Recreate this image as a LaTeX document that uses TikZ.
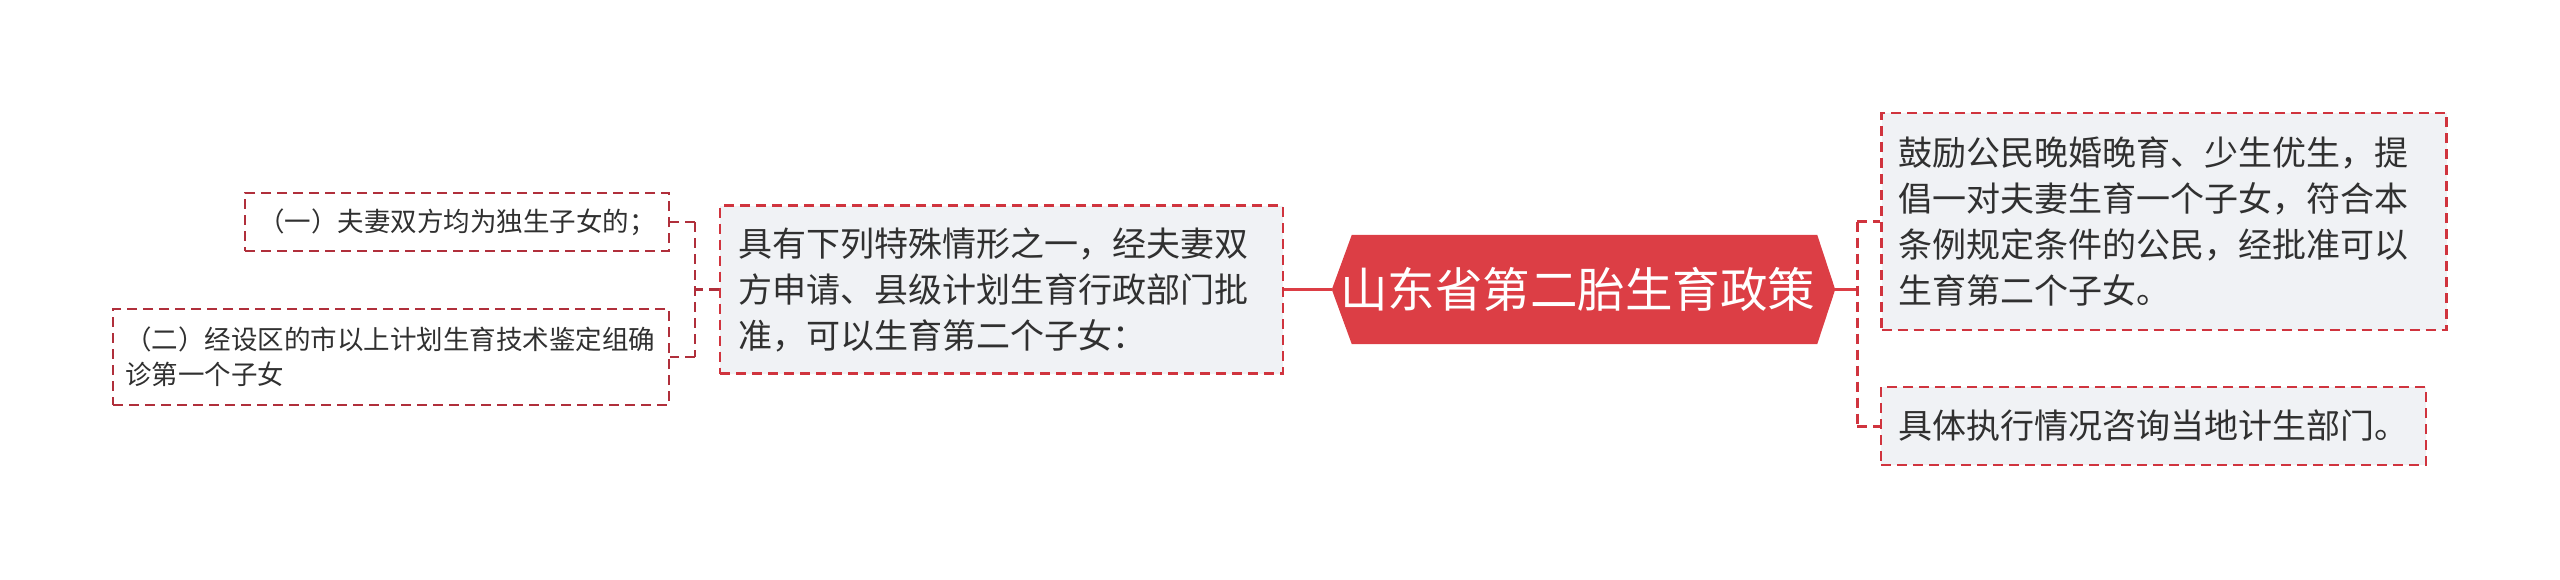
\documentclass[tikz,border=0pt]{standalone}
\usepackage{fontspec}
\newfontfamily\cjk{Noto Sans CJK SC}
\usetikzlibrary{calc,backgrounds}
\definecolor{rootred}{HTML}{DC3E45}
\definecolor{dashred}{HTML}{D0343E}
\definecolor{darkdash}{HTML}{B02F3B}
\definecolor{boxgray}{HTML}{F0F2F5}
\definecolor{txt}{HTML}{303030}
\begin{document}
\begin{tikzpicture}[x=1pt,y=-1pt,
  rootnode/.style={minimum width=503pt,minimum height=109pt,inner sep=0pt,text=white,font=\cjk\fontsize{47.5}{58}\selectfont},
  bigleaf/.style={draw=dashred,fill=boxgray,line width=2.2pt,dash pattern=on 10pt off 6pt,text=txt,align=left,inner ysep=0pt,font=\cjk\fontsize{34}{46}\selectfont},
  smallleaf/.style={draw=darkdash,fill=white,line width=2.2pt,dash pattern=on 10pt off 6pt,text=txt,align=left,inner ysep=0pt,font=\cjk\fontsize{26.5}{35}\selectfont},
  solidlink/.style={draw=rootred,line width=3pt},
  dashlink/.style={draw=dashred,line width=3pt,dash pattern=on 10pt off 6pt},
  darklink/.style={draw=darkdash,line width=2.5pt,dash pattern=on 10pt off 6pt}]
\useasboundingbox (0,0) rectangle (2560,579);

\node[rootnode] (root) at (1583.5,289.5) {\kern-12pt 山东省第二胎生育政策};
\begin{scope}[on background layer]
\fill[rootred] (root.west) -- ($(root.north west)+(20,0)$) -- ($(root.north east)+(-18,0)$) -- (root.east) -- ($(root.south east)+(-18,0)$) -- ($(root.south west)+(20,0)$) -- cycle;
\end{scope}

\node[bigleaf,minimum width=563pt,minimum height=168pt,inner xsep=18pt,text width=527pt] (mid) at (1001.5,289.5)
  {具有下列特殊情形之一，经夫妻双\\方申请、县级计划生育行政部门批\\准，可以生育第二个子女：};

\node[smallleaf,minimum width=424pt,minimum height=58pt,inner xsep=13pt,text width=398pt] (box1) at (457,222)
  {（一）夫妻双方均为独生子女的；};
\node[smallleaf,minimum width=556pt,minimum height=96pt,inner xsep=12pt,text width=532pt] (box2) at (391,357)
  {（二）经设区的市以上计划生育技术鉴定组确\\诊第一个子女};

\node[bigleaf,minimum width=565pt,minimum height=217pt,inner xsep=17pt,text width=531pt] (rbox1) at (2164,221.5)
  {鼓励公民晚婚晚育、少生优生，提\\倡一对夫妻生育一个子女，符合本\\条例规定条件的公民，经批准可以\\生育第二个子女。};
\node[bigleaf,minimum width=545pt,minimum height=78pt,inner xsep=17pt,text width=511pt] (rbox2) at (2153.5,426)
  {具体执行情况咨询当地计生部门。};

% left connectors
\coordinate (lb) at (695,289.5);
\draw[solidlink] (root.west) -- (mid.east);
\draw[darklink] (mid.west) -- (lb);
\draw[darklink] (lb |- box1.east) -- (lb |- box2.east);
\draw[darklink] (lb |- box1.east) -- (box1.east);
\draw[darklink] (lb |- box2.east) -- (box2.east);

% right connectors
\coordinate (rb) at (1857,289.5);
\draw[solidlink] (root.east) -- (rb);
\draw[dashlink] (rb |- rbox1.west) -- (rb |- rbox2.west);
\draw[dashlink] (rb |- rbox1.west) -- (rbox1.west);
\draw[dashlink] (rb |- rbox2.west) -- (rbox2.west);
\end{tikzpicture}
\end{document}
